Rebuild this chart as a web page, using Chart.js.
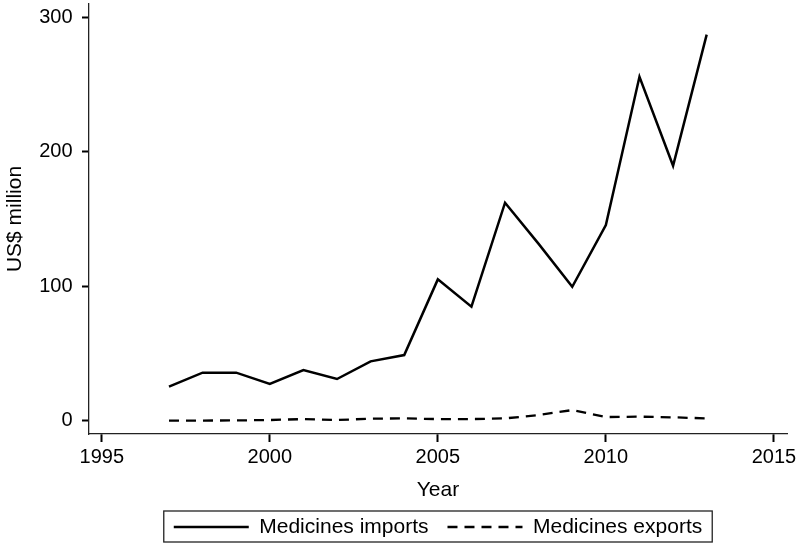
<!DOCTYPE html>
<html>
<head>
<meta charset="utf-8">
<script src="https://cdn.jsdelivr.net/npm/chart.js@4/dist/chart.umd.min.js"></script>
<style>
  body { margin: 0; background: #fff; }
  canvas { display: block; }
</style>
</head>
<body>
<canvas id="chart" width="802" height="543"></canvas>
<script>
const years = [1997, 1998, 1999, 2000, 2001, 2002, 2003, 2004, 2005, 2006, 2007, 2008, 2009, 2010, 2011, 2012, 2013];
const imports = [25.3, 35.7, 35.7, 27.3, 37.7, 31.0, 44.1, 48.8, 105.1, 84.8, 162.1, 131.5, 99.6, 145.5, 255.8, 189.6, 287.1];
const exports = [0.0, 0.1, 0.2, 0.5, 1.2, 0.5, 1.5, 1.7, 1.2, 1.2, 1.7, 4.2, 7.9, 2.7, 3.0, 2.5, 1.7];
const xTicks = [1995, 2000, 2005, 2010, 2015];
const yTicks = [0, 100, 200, 300];

const font = "'Liberation Sans', Arial, Helvetica, sans-serif";

// box drawn round the legend, Stata style
const legendFrame = {
  id: 'legendFrame',
  afterDraw(chart) {
    const boxes = chart.legend.legendHitBoxes;
    if (!boxes || !boxes.length) return;
    const left = Math.min(...boxes.map(b => b.left)) - 10;
    const right = Math.max(...boxes.map(b => b.left + b.width)) + 10;
    const top = boxes[0].top - 5.5;
    const ctx = chart.ctx;
    ctx.save();
    ctx.strokeStyle = '#222';
    ctx.lineWidth = 1.3;
    ctx.strokeRect(left, top, right - left, 31);
    ctx.restore();
  }
};

new Chart(document.getElementById('chart'), {
  type: 'line',
  data: {
    datasets: [{
      label: 'Medicines imports',
      data: years.map((y, i) => ({x: y, y: imports[i]})),
      borderColor: '#000',
      backgroundColor: '#000',
      borderWidth: 2.5,
      pointRadius: 0,
      tension: 0
    }, {
      label: 'Medicines exports',
      data: years.map((y, i) => ({x: y, y: exports[i]})),
      borderColor: '#000',
      backgroundColor: '#000',
      borderWidth: 2.3,
      borderDash: [10, 7],
      pointRadius: 0,
      tension: 0
    }]
  },
  options: {
    responsive: false,
    animation: false,
    layout: { padding: { top: 4, right: 15, bottom: 0.5, left: 0 } },
    scales: {
      x: {
        type: 'linear',
        min: 1994.62,
        max: 2015.39,
        afterBuildTicks: s => { s.ticks = xTicks.map(v => ({value: v})); },
        afterFit: s => { s.height = 63.5; s.paddingLeft = 0; s.paddingRight = 0; },
        border: { display: true, color: '#222', width: 1.3 },
        grid: { drawOnChartArea: false, tickLength: 8, tickWidth: 2, tickColor: '#000' },
        ticks: { color: '#000', padding: 3, maxRotation: 0, font: { family: font, size: 20 }, callback: v => String(v) },
        title: { display: true, text: 'Year', color: '#000', padding: { top: 0, bottom: -3 }, font: { family: font, size: 21, lineHeight: 1 } }
      },
      y: {
        min: -9.9,
        max: 309.9,
        afterBuildTicks: s => { s.ticks = yTicks.map(v => ({value: v})); },
        afterFit: s => { s.width = 89; s.paddingTop = 0; s.paddingBottom = 0; },
        border: { display: true, color: '#222', width: 1.3 },
        grid: { drawOnChartArea: false, tickLength: 7, tickWidth: 2, tickColor: '#000' },
        ticks: { color: '#000', padding: 9.5, font: { family: font, size: 20 }, callback: v => String(v) },
        title: { display: true, text: 'US$ million', color: '#000', padding: { top: 5, bottom: 0 }, font: { family: font, size: 21, lineHeight: 1 } }
      }
    },
    plugins: {
      tooltip: { enabled: false },
      legend: {
        position: 'bottom',
        fullSize: false,
        maxHeight: 45,
        labels: {
          usePointStyle: true,
          pointStyle: 'line',
          pointStyleWidth: 75,
          padding: 19,
          color: '#000',
          font: { family: font, size: 21 },
          generateLabels: chart => {
            const items = Chart.defaults.plugins.legend.labels.generateLabels(chart);
            items.forEach(it => {
              const ds = chart.data.datasets[it.datasetIndex];
              it.lineDash = ds.borderDash || [];
              it.lineWidth = ds.borderWidth;
            });
            return items;
          }
        }
      }
    }
  },
  plugins: [legendFrame]
});
</script>
</body>
</html>
